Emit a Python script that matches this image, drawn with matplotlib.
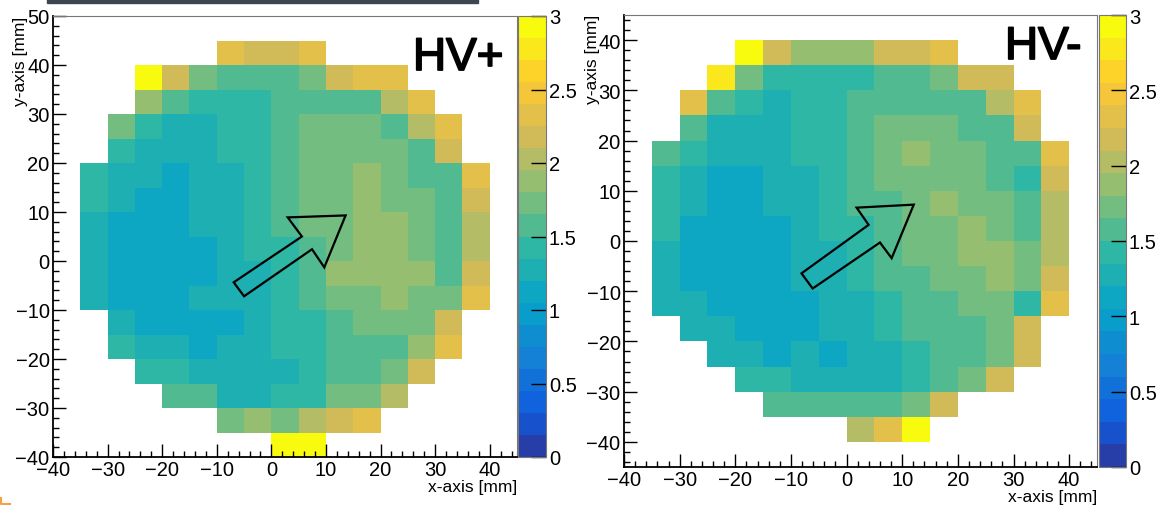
import numpy as np
import matplotlib
matplotlib.use("Agg")
import matplotlib.pyplot as plt
import matplotlib.patheffects as pe
from matplotlib.colors import LinearSegmentedColormap, ListedColormap, BoundaryNorm
from matplotlib.patches import Polygon, Rectangle
from matplotlib.lines import Line2D
from matplotlib.ticker import MultipleLocator, FormatStrFormatter

n = np.nan

# bin edges (5 mm pixels)
x_edges = np.arange(-35, 45, 5)
y_edges_plus = np.arange(-40, 50, 5)
y_edges_minus = np.arange(-40, 45, 5)

# HV+ map, rows from top (y=40..45) to bottom (y=-40..-35), columns x=-35..40
hv_plus = [
    [n, n, n, n, n, 2.32, 2.17, 2.17, 2.32, n, n, n, n, n, n],
    [n, n, 2.92, 2.17, 1.72, 1.57, 1.57, 1.57, 1.72, 2.17, 2.32, 2.32, n, n, n],
    [n, n, 1.87, 1.57, 1.42, 1.42, 1.42, 1.57, 1.57, 1.57, 1.57, 2.02, 2.32, n, n],
    [n, 1.72, 1.42, 1.27, 1.27, 1.42, 1.42, 1.57, 1.72, 1.72, 1.72, 1.52, 2.02, 2.32, n],
    [n, 1.42, 1.27, 1.27, 1.27, 1.42, 1.42, 1.57, 1.72, 1.72, 1.72, 1.72, 1.57, 2.17, n],
    [1.42, 1.27, 1.27, 1.10, 1.27, 1.27, 1.42, 1.57, 1.72, 1.72, 1.87, 1.72, 1.57, 1.57, 2.32],
    [1.42, 1.27, 1.10, 1.10, 1.27, 1.27, 1.42, 1.57, 1.72, 1.72, 1.87, 1.72, 1.72, 1.57, 2.17],
    [1.27, 1.10, 1.10, 1.10, 1.27, 1.27, 1.42, 1.57, 1.72, 1.72, 1.87, 1.87, 1.72, 1.57, 2.02],
    [1.27, 1.10, 1.10, 1.10, 1.10, 1.27, 1.42, 1.42, 1.57, 1.72, 1.87, 1.87, 1.72, 1.57, 2.02],
    [1.27, 1.10, 1.10, 1.10, 1.10, 1.27, 1.27, 1.42, 1.57, 1.87, 1.87, 1.87, 1.87, 1.57, 2.17],
    [1.27, 1.10, 1.10, 1.10, 1.27, 1.27, 1.27, 1.42, 1.57, 1.72, 1.72, 1.87, 1.72, 1.72, 2.32],
    [n, 1.27, 1.10, 1.10, 1.10, 1.10, 1.27, 1.42, 1.42, 1.57, 1.72, 1.72, 1.72, 2.17, n],
    [n, 1.42, 1.27, 1.27, 1.10, 1.27, 1.27, 1.42, 1.42, 1.57, 1.57, 1.57, 1.87, 2.32, n],
    [n, n, 1.42, 1.42, 1.27, 1.27, 1.27, 1.27, 1.42, 1.57, 1.57, 1.72, 2.17, n, n],
    [n, n, n, 1.57, 1.57, 1.27, 1.27, 1.42, 1.42, 1.72, 1.72, 2.02, n, n, n],
    [n, n, n, n, n, 1.65, 1.87, 1.72, 1.95, 2.17, 2.32, n, n, n, n],
    [n, n, n, n, n, n, n, 2.92, 2.92, n, n, n, n, n, n],
]

# HV- map, rows from top (y=35..40) to bottom (y=-40..-35)
hv_minus = [
    [n, n, n, 2.92, 2.17, 1.87, 1.87, 1.87, 2.17, 2.17, 2.32, n, n, n, n],
    [n, n, 2.77, 1.72, 1.42, 1.42, 1.42, 1.42, 1.57, 1.57, 1.72, 2.17, 2.17, n, n],
    [n, 2.32, 1.57, 1.42, 1.27, 1.42, 1.42, 1.57, 1.57, 1.57, 1.57, 1.57, 2.02, 2.32, n],
    [n, 1.57, 1.27, 1.27, 1.27, 1.42, 1.42, 1.57, 1.72, 1.72, 1.72, 1.57, 1.57, 2.17, n],
    [1.57, 1.42, 1.27, 1.27, 1.27, 1.42, 1.42, 1.57, 1.72, 1.87, 1.72, 1.72, 1.57, 1.57, 2.32],
    [1.42, 1.27, 1.10, 1.10, 1.27, 1.27, 1.42, 1.57, 1.72, 1.72, 1.72, 1.72, 1.57, 1.42, 2.17],
    [1.42, 1.27, 1.10, 1.10, 1.27, 1.27, 1.42, 1.57, 1.57, 1.72, 1.87, 1.72, 1.72, 1.57, 2.02],
    [1.42, 1.10, 1.10, 1.10, 1.10, 1.27, 1.42, 1.42, 1.57, 1.72, 1.72, 1.87, 1.72, 1.57, 1.95],
    [1.27, 1.10, 1.10, 1.10, 1.10, 1.27, 1.27, 1.42, 1.57, 1.72, 1.72, 1.87, 1.87, 1.72, 2.02],
    [1.27, 1.10, 1.10, 1.10, 1.10, 1.27, 1.27, 1.35, 1.57, 1.57, 1.72, 1.72, 1.87, 1.72, 2.17],
    [1.27, 1.27, 1.10, 1.10, 1.10, 1.10, 1.27, 1.27, 1.42, 1.57, 1.57, 1.72, 1.72, 1.42, 2.32],
    [n, 1.27, 1.27, 1.10, 1.10, 1.10, 1.27, 1.27, 1.42, 1.57, 1.57, 1.57, 1.72, 2.17, n],
    [n, n, 1.27, 1.27, 1.10, 1.27, 1.10, 1.27, 1.27, 1.35, 1.57, 1.57, 1.72, 2.17, n],
    [n, n, n, 1.42, 1.42, 1.27, 1.27, 1.27, 1.27, 1.42, 1.57, 1.72, 2.17, n, n],
    [n, n, n, n, 1.57, 1.57, 1.57, 1.57, 1.57, 1.72, 2.17, n, n, n, n],
    [n, n, n, n, n, n, n, 2.02, 2.32, 2.92, n, n, n, n, n],
]

# hand-drawn outline arrows on the slide (mm)
arrow_plus_x = [-6.9, 5.6, 3.0, 13.6, 9.7, 7.45, -5.0]
arrow_plus_y = [-4.35, 5.0, 8.9, 9.3, -1.3, 2.4, -7.2]
arrow_minus_x = [-8.1, 3.96, 1.8, 12.07, 8.1, 6.0, -6.1]
arrow_minus_y = [-6.44, 3.22, 6.64, 7.24, -3.42, -0.3, -9.46]

# ROOT kBird palette, 20 contour levels between 0 and 3
stops = [0.0, 0.125, 0.25, 0.375, 0.5, 0.625, 0.75, 0.875, 1.0]
red = [0.2082, 0.0592, 0.0780, 0.0232, 0.1802, 0.5301, 0.8186, 0.9956, 0.9764]
green = [0.1664, 0.3599, 0.5041, 0.6419, 0.7178, 0.7492, 0.7328, 0.7862, 0.9832]
blue = [0.5293, 0.8684, 0.8385, 0.7914, 0.6425, 0.4662, 0.3499, 0.1968, 0.0539]
bird = LinearSegmentedColormap.from_list(
    "bird", list(zip(stops, zip(red, green, blue))), N=255)
ndiv = 20
band_cols = [bird(int((i + 0.99) * 255 / ndiv) / 254) for i in range(ndiv)]
cmap = ListedColormap(band_cols)
levels = np.linspace(0, 3, ndiv + 1)
norm = BoundaryNorm(levels, cmap.N)

plt.rcParams["font.family"] = ["Liberation Sans", "DejaVu Sans"]

W, H = 1159, 506
fig = plt.figure(figsize=(W / 100, H / 100), dpi=100)


def fbox(x0, y0, x1, y1):
    return [x0 / W, 1 - y1 / H, (x1 - x0) / W, (y1 - y0) / H]


panels = [
    dict(data=hv_plus, yedges=y_edges_plus, ylim=(-40, 50), ax=fbox(53, 17, 517, 458),
         cax=fbox(518, 17, 546, 458), label="HV+", lab_xy=(413, 71),
         arrow=(arrow_plus_x, arrow_plus_y), xt=(517, 488), yt=(21, 17)),
    dict(data=hv_minus, yedges=y_edges_minus, ylim=(-45, 45), ax=fbox(624, 16, 1097, 468),
         cax=fbox(1099, 16, 1126, 468), label="HV-", lab_xy=(1005, 60),
         arrow=(arrow_minus_x, arrow_minus_y), xt=(1097, 498), yt=(592, 15)),
]

for p in panels:
    ax = fig.add_axes(p["ax"])
    z = np.array(p["data"], dtype=float)[::-1]
    mesh = ax.pcolormesh(x_edges, p["yedges"], z, cmap=cmap, norm=norm)
    ax.set_xlim(-40, 45)
    ax.set_ylim(*p["ylim"])
    ax.xaxis.set_major_locator(MultipleLocator(10))
    ax.xaxis.set_minor_locator(MultipleLocator(2))
    ax.yaxis.set_major_locator(MultipleLocator(10))
    ax.yaxis.set_minor_locator(MultipleLocator(2))
    ax.tick_params(which="both", direction="in", top=False, right=False,
                   labelsize=14.5, width=1.0, pad=2.5)
    ax.tick_params(which="major", length=9.5)
    ax.tick_params(which="minor", length=4.5)
    for s in ("top", "right"):
        ax.spines[s].set_color("#777777")
        ax.spines[s].set_linewidth(0.8)
    for s in ("left", "bottom"):
        ax.spines[s].set_linewidth(1.3)

    ax.add_patch(Polygon(np.column_stack(p["arrow"]), closed=True, fill=False,
                         edgecolor="black", lw=1.6, zorder=5))

    cax = fig.add_axes(p["cax"])
    cb = fig.colorbar(mesh, cax=cax, ticks=np.arange(0, 3.01, 0.5),
                      format=FormatStrFormatter("%g"))
    cb.outline.set_edgecolor("#777777")
    cb.outline.set_linewidth(0.8)
    cax.tick_params(direction="in", length=11, width=1.0, labelsize=14.5, pad=2)
    cax.minorticks_off()

    # slide labels are a touch heavier than the regular face
    fig.text(p["lab_xy"][0] / W, 1 - p["lab_xy"][1] / H, p["label"],
             fontsize=33, va="baseline", ha="left",
             path_effects=[pe.withStroke(linewidth=1.3, foreground="black")])
    fig.text(p["xt"][0] / W, 1 - p["xt"][1] / H, "x-axis [mm]", fontsize=12.5,
             ha="right", va="center")
    fig.text(p["yt"][0] / W, 1 - p["yt"][1] / H, "y-axis [mm]", fontsize=12.5,
             rotation=90, ha="center", va="top")

# remnants of the slide around the screenshot
fig.patches.append(Rectangle((47 / W, 1 - 4 / H), (478 - 47) / W, 4 / H,
                             transform=fig.transFigure, color="#3c4652", zorder=10))
fig.lines.append(Line2D([1 / W, 1 / W, 10 / W], [1 - 499 / H, 1 - 505 / H, 1 - 505 / H],
                        transform=fig.transFigure, color="#f7a048", lw=1.5))

fig.savefig("out.png", dpi=100)
